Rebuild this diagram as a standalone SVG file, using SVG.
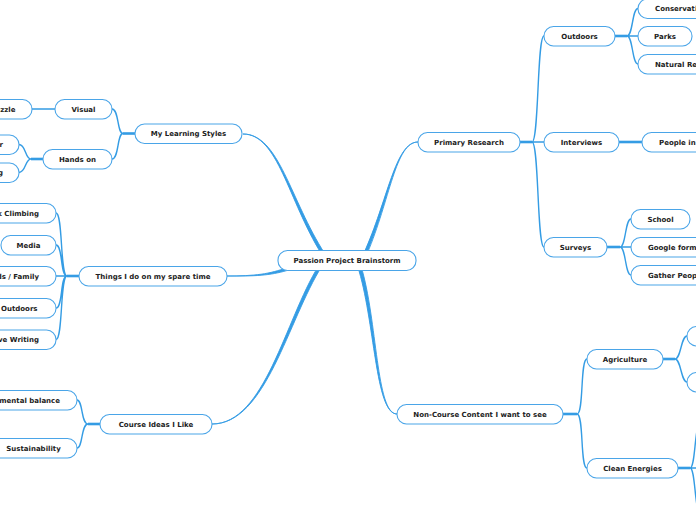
<svg xmlns="http://www.w3.org/2000/svg" width="696" height="520" viewBox="0 0 696 520">
<style>
.n{fill:#fff;stroke:#4aa5e8;stroke-width:1.1}
.t{font-family:"DejaVu Sans",Verdana,sans-serif;font-weight:bold;font-size:7px;fill:#222;text-anchor:middle}
.e{text-anchor:end}
.s{text-anchor:start}
.m{fill:#349ce4;stroke:#349ce4;stroke-width:0.9}
.c{fill:none;stroke:#349ce4;stroke-width:1.4;stroke-linecap:round}
.k{fill:none;stroke:#349ce4;stroke-width:2.6}
</style>
<rect width="696" height="520" fill="#fff"/>
<g id="connectors">
<path class="m" d="M243,134 C278,134 288,200 321.5,254 L325,254 C290,199.5 279,133.8 243,134 Z"/>
<path class="m" d="M418,142 C395,142 388,200 363.5,254 L367,254 C390,200 395.5,141.8 418,142 Z"/>
<path class="m" d="M227,276 C255,276 270,274 287,267.5 L287,270.5 C270,275.5 255,276.3 227,276 Z"/>
<path class="m" d="M212,424 C265,424 285,320 318.5,266 L322,266 C288,320 266,424.3 212,424 Z"/>
<path class="m" d="M397,414 C375,414 375,320 357.5,266 L361,266 C377.5,320 376,414.3 397,414 Z"/>
<path class="k" d="M135,133.5 H123"/>
<path class="c" d="M123,133.5 C117,133.5 119,109 112,109 M123,133.5 C117,133.5 119,159 112,159"/>
<path class="c" d="M55,109 H32"/>
<path class="k" d="M43,159 H31"/>
<path class="c" d="M31,159 C25,159 26,144.5 19,144.5 M31,159 C25,159 26,172.5 19,172.5"/>
<path class="k" d="M79,276 H67"/>
<path class="c" d="M67,276 C60,276 63,213 56,213 M67,276 C60,276 63,245 56,245 M67,276 H56 M67,276 C60,276 63,308 56,308 M67,276 C60,276 63,339.5 56,339.5"/>
<path class="k" d="M100,424 H88"/>
<path class="c" d="M88,424 C81,424 83,400 77,400 M88,424 C81,424 83,448 77,448"/>
<path class="k" d="M520,142 H532"/>
<path class="c" d="M532,142 C539,142 537,36 544,36 M532,142 H544 M532,142 C539,142 537,247 544,247"/>
<path class="k" d="M615,36 H627"/>
<path class="c" d="M627,36 C633,36 632,8.5 638,8.5 M627,36 H638 M627,36 C633,36 632,64 638,64"/>
<path class="k" d="M619,142 H642"/>
<path class="k" d="M607,247 H620"/>
<path class="c" d="M620,247 C626,247 625,219 631,219 M620,247 H631 M620,247 C626,247 625,275 631,275"/>
<path class="k" d="M563,414 H577"/>
<path class="c" d="M577,414 C584,414 580,359 587,359 M577,414 C584,414 580,468 587,468"/>
<path class="k" d="M663,359 H675"/>
<path class="c" d="M675,359 C681,359 681,336 687,336 M675,359 C681,359 681,382 687,382"/>
<path class="k" d="M678,468 H690"/>
<path class="c" d="M690,468 C696,468 694,420 702,420 M690,468 H702 M690,468 C696,468 694,516 702,516"/>
</g>
<g id="center"><rect class="n" x="278" y="250.5" width="138" height="20" rx="9.5"/><text class="t" x="347" y="263">Passion Project Brainstorm</text></g>
<g id="learning"><rect class="n" x="135" y="124" width="107" height="19.5" rx="9.5"/><text class="t" x="188.5" y="136">My Learning Styles</text></g>
<g id="visual"><rect class="n" x="55" y="99.5" width="57" height="19.5" rx="9.5"/><text class="t" x="83.5" y="111.5">Visual</text></g>
<g id="puzzle"><rect class="n" x="-40" y="99.5" width="72" height="19.5" rx="9.5"/><text class="t e" x="15.5" y="111.5">Puzzle</text></g>
<g id="handson"><rect class="n" x="43" y="149.5" width="69" height="19.5" rx="9.5"/><text class="t" x="77.5" y="161.5">Hands on</text></g>
<g id="ho1"><rect class="n" x="-50" y="135" width="69" height="19.5" rx="9.5"/><text class="t e" x="3" y="147">Computer</text></g>
<g id="ho2"><rect class="n" x="-50" y="163" width="69" height="19.5" rx="9.5"/><text class="t e" x="3" y="175">Building</text></g>
<g id="things"><rect class="n" x="79" y="266.5" width="148" height="19.5" rx="9.5"/><text class="t" x="153" y="278.5">Things I do on my spare time</text></g>
<g id="rock"><rect class="n" x="-40" y="203.5" width="96" height="19.5" rx="9.5"/><text class="t e" x="39" y="215.5">Rock Climbing</text></g>
<g id="media"><rect class="n" x="1" y="235.5" width="55" height="19.5" rx="9.5"/><text class="t" x="28.5" y="247.5">Media</text></g>
<g id="friends"><rect class="n" x="-60" y="266.5" width="116" height="19.5" rx="9.5"/><text class="t e" x="39" y="278.5">Friends / Family</text></g>
<g id="outdoorsL"><rect class="n" x="-20" y="298.5" width="76" height="19.5" rx="9.5"/><text class="t e" x="37.5" y="310.5">Outdoors</text></g>
<g id="writing"><rect class="n" x="-60" y="330" width="116" height="19.5" rx="9.5"/><text class="t e" x="39" y="342">Creative Writing</text></g>
<g id="course"><rect class="n" x="100" y="414.5" width="112" height="19.5" rx="9.5"/><text class="t" x="156" y="426.5">Course Ideas I Like</text></g>
<g id="envbal"><rect class="n" x="-60" y="390.5" width="137" height="19.5" rx="9.5"/><text class="t e" x="60" y="402.5">Environmental balance</text></g>
<g id="sustain"><rect class="n" x="-10" y="438.5" width="87" height="19.5" rx="9.5"/><text class="t" x="33.5" y="450.5">Sustainability</text></g>
<g id="primary"><rect class="n" x="418" y="132.5" width="102" height="19.5" rx="9.5"/><text class="t" x="469" y="144.5">Primary Research</text></g>
<g id="outdoorsR"><rect class="n" x="544" y="26.5" width="71" height="19.5" rx="9.5"/><text class="t" x="579.5" y="38.5">Outdoors</text></g>
<g id="conservation"><rect class="n" x="638" y="-1" width="100" height="19.5" rx="9.5"/><text class="t s" x="655" y="11">Conservation</text></g>
<g id="parks"><rect class="n" x="638" y="26.5" width="54" height="19.5" rx="9.5"/><text class="t" x="665" y="38.5">Parks</text></g>
<g id="natural"><rect class="n" x="638" y="54.5" width="100" height="19.5" rx="9.5"/><text class="t s" x="655" y="66.5">Natural Reserves</text></g>
<g id="interviews"><rect class="n" x="544" y="132.5" width="75" height="19.5" rx="9.5"/><text class="t" x="581.5" y="144.5">Interviews</text></g>
<g id="people"><rect class="n" x="642" y="132.5" width="100" height="19.5" rx="9.5"/><text class="t s" x="659" y="144.5">People in the field</text></g>
<g id="surveys"><rect class="n" x="544" y="237.5" width="63" height="19.5" rx="9.5"/><text class="t" x="575.5" y="249.5">Surveys</text></g>
<g id="school"><rect class="n" x="631" y="209.5" width="59" height="19.5" rx="9.5"/><text class="t" x="660.5" y="221.5">School</text></g>
<g id="google"><rect class="n" x="631" y="237.5" width="100" height="19.5" rx="9.5"/><text class="t s" x="648" y="249.5">Google forms</text></g>
<g id="gather"><rect class="n" x="631" y="265.5" width="110" height="19.5" rx="9.5"/><text class="t s" x="648" y="277.5">Gather People</text></g>
<g id="noncourse"><rect class="n" x="397" y="404.5" width="166" height="19.5" rx="9.5"/><text class="t" x="480" y="416.5">Non-Course Content I want to see</text></g>
<g id="agriculture"><rect class="n" x="587" y="349.5" width="76" height="19.5" rx="9.5"/><text class="t" x="625" y="361.5">Agriculture</text></g>
<g id="ag1"><rect class="n" x="687" y="326.5" width="60" height="19.5" rx="9.5"/></g>
<g id="ag2"><rect class="n" x="687" y="372.5" width="60" height="19.5" rx="9.5"/></g>
<g id="clean"><rect class="n" x="587" y="458.5" width="91" height="19.5" rx="9.5"/><text class="t" x="632.5" y="470.5">Clean Energies</text></g>
</svg>
